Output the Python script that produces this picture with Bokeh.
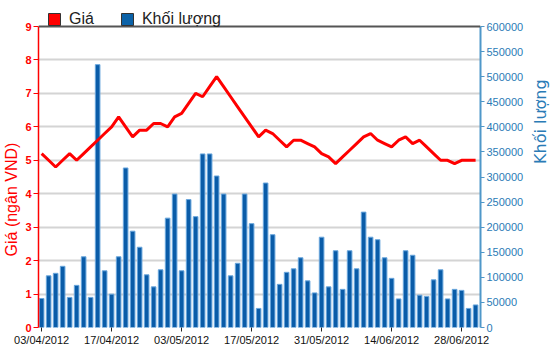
import math
from bokeh.plotting import figure
from bokeh.models import (Range1d, LinearAxis, FixedTicker, NumeralTickFormatter,
                          Legend, LegendItem, ColumnDataSource, Span)
from bokeh.embed import file_html
from bokeh.resources import INLINE

dates = [
    "03/04/2012", "04/04/2012", "05/04/2012", "06/04/2012", "09/04/2012", "10/04/2012",
    "11/04/2012", "12/04/2012", "13/04/2012", "16/04/2012", "17/04/2012", "18/04/2012",
    "19/04/2012", "20/04/2012", "23/04/2012", "24/04/2012", "25/04/2012", "26/04/2012",
    "27/04/2012", "02/05/2012", "03/05/2012", "04/05/2012", "07/05/2012", "08/05/2012",
    "09/05/2012", "10/05/2012", "11/05/2012", "14/05/2012", "15/05/2012", "16/05/2012",
    "17/05/2012", "18/05/2012", "21/05/2012", "22/05/2012", "23/05/2012", "24/05/2012",
    "25/05/2012", "28/05/2012", "29/05/2012", "30/05/2012", "31/05/2012", "01/06/2012",
    "04/06/2012", "05/06/2012", "06/06/2012", "07/06/2012", "08/06/2012", "11/06/2012",
    "12/06/2012", "13/06/2012", "14/06/2012", "15/06/2012", "18/06/2012", "19/06/2012",
    "20/06/2012", "21/06/2012", "22/06/2012", "25/06/2012", "26/06/2012", "27/06/2012",
    "28/06/2012", "29/06/2012", "02/07/2012",
]

price = [
    5.2, 5.0, 4.8, 5.0, 5.2, 5.0, 5.2, 5.4, 5.6, 5.8,
    6.0, 6.3, 6.0, 5.7, 5.9, 5.9, 6.1, 6.1, 6.0, 6.3,
    6.4, 6.7, 7.0, 6.9, 7.2, 7.5, 7.2, 6.9, 6.6, 6.3,
    6.0, 5.7, 5.9, 5.8, 5.6, 5.4, 5.6, 5.6, 5.5, 5.4,
    5.2, 5.1, 4.9, 5.1, 5.3, 5.5, 5.7, 5.8, 5.6, 5.5,
    5.4, 5.6, 5.7, 5.5, 5.6, 5.4, 5.2, 5.0, 5.0, 4.9,
    5.0, 5.0, 5.0,
]

volume = [
    57800, 103000, 108000, 122000, 60000, 84000, 141000, 60000, 524000, 113000,
    66500, 141000, 318000, 192000, 160000, 105000, 81000, 115000, 218000, 266000,
    113000, 255000, 221000, 346000, 346000, 302000, 266000, 103000, 128000, 266000,
    207000, 38000, 288000, 185000, 86000, 110000, 117000, 139000, 93000, 69000,
    180000, 81000, 153000, 76000, 153000, 117000, 230000, 180000, 175000, 139000,
    98000, 57000, 153000, 144000, 64500, 62000, 95000, 115000, 57000, 76000,
    74000, 38000, 45000,
]

price_ticks = [0, 1, 2, 3, 4, 5, 6, 7, 8, 9]
volume_ticks = [0, 50000, 100000, 150000, 200000, 250000, 300000, 350000,
                400000, 450000, 500000, 550000, 600000]
date_tick_idx = [0, 10, 20, 30, 40, 50, 60]

PRICE_MAX = 9
VOL_MAX = 600000
HEAD = 26 / 33.44  # room above the top gridline for the legend (in price units)

idx = list(range(len(dates)))
src = ColumnDataSource(dict(x=idx, price=price, volume=volume, date=dates))

RED = "#ff0000"
BAR = "#0a5ca8"
BLUE_AX = "#4f97c9"
BLUE_TXT = "#2a7bb6"
PAD = "\u00a0"

p = figure(frame_width=442, frame_height=327, output_backend="svg",
           toolbar_location=None,
           x_range=Range1d(-0.45, 62.7), y_range=Range1d(0, PRICE_MAX + HEAD),
           min_border_left=31, min_border_right=69, min_border_top=0,
           min_border_bottom=21)
p.extra_y_ranges = {"vol": Range1d(0, VOL_MAX * (PRICE_MAX + HEAD) / PRICE_MAX)}

p.background_fill_color = "white"
p.outline_line_color = None

bars = p.vbar(x="x", top="volume", width=0.66, source=src, y_range_name="vol",
              fill_color=BAR, line_color="#6aa7dd", line_width=1)
line = p.line(x="x", y="price", source=src, line_color=RED, line_width=3)

# legend swatches: zero-size square markers on the data (invisible on the plot)
sw_price = p.scatter(x="x", y="price", source=src, marker="square", size=0,
                     fill_color=RED, line_color="#333333", line_width=1)
sw_vol = p.scatter(x="x", y="volume", source=src, y_range_name="vol",
                   marker="square", size=0, fill_color="#0b62a8",
                   line_color="#333333", line_width=1)

p.add_layout(Span(location=PRICE_MAX, dimension="width", line_color="#555555",
                  line_width=2))

xa = p.xaxis[0]
xa.ticker = FixedTicker(ticks=date_tick_idx)
xa.major_label_overrides = {i: dates[i] for i in date_tick_idx}
xa.minor_tick_line_color = None
xa.major_tick_in = 0
xa.major_tick_out = 4
xa.major_tick_line_color = "#222222"
xa.axis_line_color = None
xa.major_label_text_font = "Liberation Sans"
xa.major_label_text_font_size = "11px"
xa.major_label_text_color = "#111111"
xa.major_label_standoff = 2

ya = p.yaxis[0]
ya.ticker = FixedTicker(ticks=price_ticks)
ya.bounds = (0, PRICE_MAX)
ya.axis_label = "Giá (ngân VND)" + PAD * 16
ya.axis_label_text_color = RED
ya.axis_label_text_font = "Liberation Sans"
ya.axis_label_text_font_size = "16px"
ya.axis_label_text_font_style = "normal"
ya.axis_label_standoff = 2
ya.axis_line_color = RED
ya.axis_line_width = 1.5
ya.major_tick_line_color = RED
ya.major_tick_in = 0
ya.major_tick_out = 5
ya.minor_tick_line_color = None
ya.major_label_text_color = RED
ya.major_label_text_font = "Liberation Sans"
ya.major_label_text_font_size = "11px"
ya.major_label_text_font_style = "bold"
ya.major_label_standoff = 2

ra = LinearAxis(y_range_name="vol", ticker=FixedTicker(ticks=volume_ticks),
                formatter=NumeralTickFormatter(format="0"), bounds=(0, VOL_MAX))
ra.axis_label = "Khối lượng"
ra.axis_label_orientation = math.pi / 2
ra.axis_label_text_color = BLUE_TXT
ra.axis_label_text_font = "DejaVu Sans"
ra.axis_label_text_font_size = "16px"
ra.axis_label_text_font_style = "normal"
ra.axis_label_standoff = 14
ra.axis_line_color = BLUE_AX
ra.axis_line_width = 2
ra.major_tick_line_color = BLUE_AX
ra.major_tick_in = 0
ra.major_tick_out = 4
ra.minor_tick_line_color = None
ra.major_label_text_color = BLUE_TXT
ra.major_label_text_font = "Liberation Sans"
ra.major_label_text_font_size = "11px"
ra.major_label_standoff = 2
p.add_layout(ra, "right")

p.xgrid.grid_line_color = None
p.ygrid.ticker = FixedTicker(ticks=price_ticks[:-1])
p.ygrid.grid_line_color = "#d4d4d4"
p.ygrid.grid_line_width = 2

legend = Legend(items=[LegendItem(label="Giá", renderers=[sw_price]),
                       LegendItem(label="Khối lượng", renderers=[sw_vol])],
                orientation="horizontal", location=(1, 293),
                glyph_width=30, glyph_height=30, label_standoff=-7, spacing=18,
                padding=0, margin=0, border_line_color=None,
                background_fill_alpha=0,
                label_text_font="Liberation Sans", label_text_font_size="16px",
                label_text_color="#222222", label_height=15)
p.add_layout(legend)

open("out.html", "w").write(file_html(p, INLINE))
